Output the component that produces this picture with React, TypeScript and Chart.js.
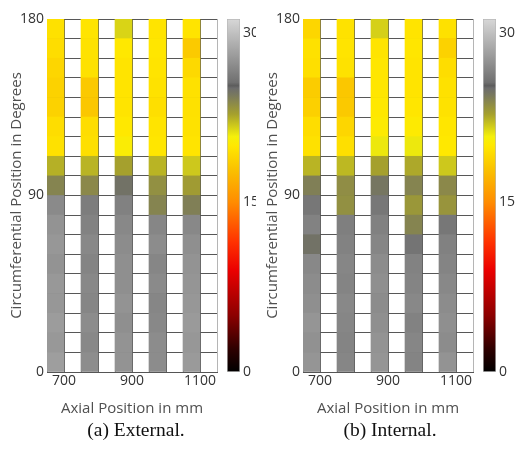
import React, { useEffect, useRef } from "react";
import { Chart, registerables } from "chart.js";

Chart.register(...registerables);

// ---- data ----
const axialCentersMm = [675, 775, 875, 975, 1075];
const circumferentialEdgesDeg = [180, 170, 160, 150, 140, 130, 120, 110, 100, 90, 80, 70, 60, 50, 40, 30, 20, 10, 0];

// External (a): one array per axial column, rows from 180 deg down to 0 deg
const external700 = [19.6, 19.4, 19.0, 18.8, 18.8, 19.4, 19.6, 22.4, 24.0, 27.0, 27.5, 27.7, 27.5, 27.8, 27.7, 28.0, 27.8, 28.1];
const external800 = [19.8, 19.7, 19.6, 18.3, 18.2, 19.4, 19.5, 22.3, 23.8, 26.3, 26.6, 26.9, 26.7, 26.9, 26.8, 27.1, 26.9, 27.2];
const external900 = [21.5, 20.0, 19.8, 19.8, 19.8, 20.0, 20.4, 22.8, 24.8, 26.5, 26.9, 27.1, 27.3, 27.3, 27.5, 27.3, 27.5, 27.5];
const external1000 = [19.8, 19.9, 19.8, 19.7, 19.5, 19.8, 19.9, 22.3, 23.5, 24.0, 26.8, 27.1, 26.8, 27.0, 26.8, 26.9, 27.1, 27.1];
const external1100 = [19.8, 18.4, 19.2, 19.6, 19.6, 19.7, 19.8, 21.8, 23.0, 24.2, 26.9, 27.3, 27.5, 27.6, 27.7, 27.9, 27.7, 27.9];

// Internal (b)
const internal700 = [19.0, 19.6, 19.5, 18.5, 18.7, 19.4, 19.6, 22.3, 24.2, 26.0, 26.6, 24.8, 26.9, 27.1, 27.3, 27.6, 27.4, 27.6];
const internal800 = [19.7, 19.8, 19.7, 18.2, 18.3, 19.0, 19.5, 22.2, 23.6, 23.5, 26.4, 26.6, 26.8, 26.7, 26.9, 26.8, 26.7, 26.8];
const internal900 = [21.6, 19.8, 19.9, 19.9, 20.0, 20.2, 21.0, 22.8, 24.6, 26.0, 26.5, 26.8, 27.1, 27.3, 27.1, 27.3, 27.5, 27.6];
const internal1000 = [19.8, 19.9, 19.8, 19.8, 19.9, 20.2, 21.0, 22.6, 24.0, 23.2, 24.0, 25.8, 26.6, 26.7, 26.9, 26.6, 26.8, 26.7];
const internal1100 = [19.6, 18.8, 19.4, 19.6, 19.7, 19.9, 20.0, 21.8, 23.8, 23.3, 26.0, 26.5, 26.7, 26.9, 27.1, 27.3, 27.1, 27.5];

const xTickLabels = [700, 900, 1100];
const yTickLabels = [0, 90, 180];
const colorbarTickLabels = [0, 15, 30];
const colorbarMax = 31.2;

// colormap stops (value, rgb)
const colorStopValues = [0, 2, 5, 9, 11.5, 15, 18, 20, 20.8, 22.8, 24.5, 25.1, 25.3, 25.6, 31.2];
const colorStopRgb: number[][] = [
  [0, 0, 0],
  [45, 0, 0],
  [140, 0, 0],
  [235, 0, 0],
  [255, 50, 0],
  [255, 140, 0],
  [250, 195, 0],
  [255, 232, 0],
  [245, 240, 10],
  [165, 160, 45],
  [120, 120, 95],
  [108, 108, 108],
  [92, 92, 92],
  [112, 112, 112],
  [215, 215, 215],
];

const rgb = (c: number[]) => `rgb(${Math.round(c[0])},${Math.round(c[1])},${Math.round(c[2])})`;

function colorFor(v: number): string {
  if (v <= colorStopValues[0]) return rgb(colorStopRgb[0]);
  for (let i = 1; i < colorStopValues.length; i++) {
    if (v <= colorStopValues[i]) {
      const t = (v - colorStopValues[i - 1]) / (colorStopValues[i] - colorStopValues[i - 1]);
      const a = colorStopRgb[i - 1];
      const b = colorStopRgb[i];
      return rgb([a[0] + (b[0] - a[0]) * t, a[1] + (b[1] - a[1]) * t, a[2] + (b[2] - a[2]) * t]);
    }
  }
  return rgb(colorStopRgb[colorStopRgb.length - 1]);
}

const FONT = "'Open Sans', 'DejaVu Sans', sans-serif";

function makeHeatmap(canvas: HTMLCanvasElement, columns: number[][]) {
  const datasets = columns.map((vals, c) => ({
    type: "bar" as const,
    data: vals.map((_, r) => ({
      x: axialCentersMm[c],
      y: [circumferentialEdgesDeg[r + 1], circumferentialEdgesDeg[r]],
    })),
    backgroundColor: vals.map((v) => colorFor(v)),
    borderWidth: 0,
    grouped: false,
    barPercentage: 1,
    categoryPercentage: 1,
  }));
  return new Chart(canvas, {
    type: "bar",
    data: { datasets: datasets as any },
    options: {
      animation: false,
      responsive: false,
      devicePixelRatio: 1,
      layout: { padding: { top: 19, right: 5, left: 0, bottom: 0 } },
      plugins: { legend: { display: false }, tooltip: { enabled: false } },
      scales: {
        x: {
          type: "linear",
          min: 650,
          max: 1150,
          offset: false,
          z: 1,
          ticks: {
            stepSize: 50,
            autoSkip: false,
            maxRotation: 0,
            padding: 1,
            color: "#333",
            font: { family: FONT, size: 14 },
            callback: (v: any) => (xTickLabels.includes(Number(v)) ? String(v) : ""),
          },
          grid: {
            offset: false,
            drawTicks: false,
            lineWidth: 1,
            color: (ctx: any) => (ctx.tick && ctx.tick.value === 1150 ? "#b5b5b5" : "rgba(45,45,45,0.8)"),
          },
          border: { color: "#555", width: 1 },
          title: {
            display: true,
            text: "Axial Position in mm",
            color: "#505050",
            font: { family: FONT, size: 15 },
            padding: { top: 0, bottom: 2 },
          },
          afterFit: (s: any) => {
            s.height = 48;
          },
        },
        y: {
          type: "linear",
          min: 0,
          max: 180,
          z: 1,
          ticks: {
            stepSize: 10,
            autoSkip: false,
            padding: 3,
            color: "#333",
            font: { family: FONT, size: 14 },
            callback: (v: any) => (yTickLabels.includes(Number(v)) ? String(v) : ""),
          },
          grid: {
            drawTicks: false,
            lineWidth: 1,
            color: "rgba(45,45,45,0.8)",
          },
          border: { color: "#555", width: 1 },
          title: {
            display: true,
            text: "Circumferential Position in Degrees",
            color: "#505050",
            font: { family: FONT, size: 15 },
            padding: { top: 8, bottom: 0 },
          },
          afterFit: (s: any) => {
            s.width = 47;
          },
        },
      },
    },
  });
}

function makeColorbar(canvas: HTMLCanvasElement, axisWidth: number) {
  return new Chart(canvas, {
    type: "bar",
    data: {
      labels: ["scale"],
      datasets: [
        {
          data: [[0, colorbarMax]] as any,
          backgroundColor: (ctx: any) => {
            const chart = ctx.chart;
            const ys = chart.scales && chart.scales.y;
            if (!chart.chartArea || !ys) return "#888";
            const y0 = ys.getPixelForValue(0);
            const y1 = ys.getPixelForValue(colorbarMax);
            const g = chart.ctx.createLinearGradient(0, y0, 0, y1);
            colorStopValues.forEach((v, i) => g.addColorStop(v / colorbarMax, rgb(colorStopRgb[i])));
            return g;
          },
          borderWidth: 1,
          borderColor: "#b8b8b8",
          borderSkipped: false,
          barPercentage: 1,
          categoryPercentage: 1,
        },
      ],
    },
    options: {
      animation: false,
      responsive: false,
      devicePixelRatio: 1,
      layout: { padding: { top: 19, left: 7, right: 0, bottom: 48 } },
      plugins: { legend: { display: false }, tooltip: { enabled: false } },
      scales: {
        x: { display: false },
        y: {
          position: "right",
          min: 0,
          max: colorbarMax,
          grid: { display: false, drawTicks: false },
          border: { display: false },
          ticks: {
            padding: 3,
            color: "#333",
            font: { family: FONT, size: 14 },
          },
          afterBuildTicks: (s: any) => {
            s.ticks = colorbarTickLabels.map((v) => ({ value: v }));
          },
          afterFit: (s: any) => {
            s.width = axisWidth;
          },
        },
      },
    },
  });
}

export default function App() {
  const hA = useRef<HTMLCanvasElement>(null);
  const cA = useRef<HTMLCanvasElement>(null);
  const hB = useRef<HTMLCanvasElement>(null);
  const cB = useRef<HTMLCanvasElement>(null);

  useEffect(() => {
    const charts = [
      makeHeatmap(hA.current!, [external700, external800, external900, external1000, external1100]),
      makeColorbar(cA.current!, 16),
      makeHeatmap(hB.current!, [internal700, internal800, internal900, internal1000, internal1100]),
      makeColorbar(cB.current!, 19),
    ];
    return () => charts.forEach((c) => c.destroy());
  }, []);

  const abs = (left: number, width: number, height: number): React.CSSProperties => ({
    position: "absolute",
    left,
    top: 0,
    width,
    height,
  });
  const caption: React.CSSProperties = {
    position: "absolute",
    top: 419,
    width: 200,
    textAlign: "center",
    fontFamily: "'Liberation Serif', 'Times New Roman', serif",
    fontSize: 19.5,
    lineHeight: "22px",
    color: "#111",
  };

  return (
    <div style={{ position: "absolute", left: 0, top: 0, width: 515, height: 452, background: "#fff", overflow: "hidden" }}>
      <canvas ref={hA} width={222} height={420} style={abs(0, 222, 420)} />
      <canvas ref={cA} width={36} height={420} style={abs(220, 36, 420)} />
      <canvas ref={hB} width={222} height={420} style={abs(256, 222, 420)} />
      <canvas ref={cB} width={39} height={420} style={abs(476, 39, 420)} />
      <div style={{ ...caption, left: 36 }}>(a) External.</div>
      <div style={{ ...caption, left: 290 }}>(b) Internal.</div>
    </div>
  );
}
